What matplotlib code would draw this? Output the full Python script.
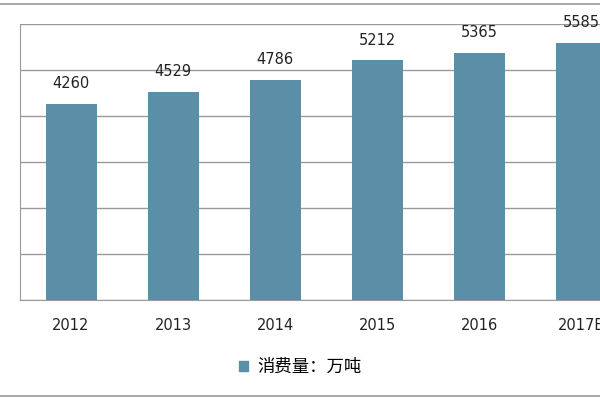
import matplotlib.pyplot as plt
from matplotlib.lines import Line2D
from matplotlib.patches import Patch

plt.rcParams['font.family'] = ['Noto Sans CJK SC', 'DejaVu Sans']

# donnees
annees = ['2012', '2013', '2014', '2015', '2016', '2017E']
consommation = [4260, 4529, 4786, 5212, 5365, 5585]
graduations = [0, 1000, 2000, 3000, 4000, 5000, 6000]
legende = '消费量：万吨'

couleur = '#5B8FA8'
gris = '#9A9A9A'
texte = '#222222'

fig = plt.figure(figsize=(6, 4), dpi=100)
# le graphique d'origine est recadre : l'axe depasse a droite
ax = fig.add_axes([20 / 600, 0.25, 612 / 600, 0.69])

x = list(range(len(annees)))
ax.bar(x, consommation, width=0.5, color=couleur, zorder=3)
for xi, v in zip(x, consommation):
    ax.text(xi, v + 440, str(v), ha='center', va='center', fontsize=10.5,
            color=texte, family='DejaVu Sans')

ax.set_xlim(-0.5, len(annees) - 0.5)
ax.set_ylim(0, 6000)
ax.set_yticks(graduations)
ax.set_yticklabels([str(g) for g in graduations], fontsize=10.5, family='DejaVu Sans')
ax.tick_params(axis='y', length=0, pad=14, colors=texte)
ax.set_xticks(x)
ax.set_xticklabels(annees, fontsize=10.5, color=texte, family='DejaVu Sans')
ax.tick_params(axis='x', length=0, pad=13)
ax.yaxis.grid(True, color=gris, linewidth=1, zorder=0)

for cote in ['top', 'right']:
    ax.spines[cote].set_visible(False)
ax.spines['left'].set_color(gris)
ax.spines['bottom'].set_color(gris)

fig.legend(handles=[Patch(color=couleur, label=legende)], loc='center',
           bbox_to_anchor=(0.5, 1 - 367 / 400), frameon=False, fontsize=12.5,
           handlelength=0.55, handleheight=0.55, handletextpad=0.5)

# cadre exterieur (haut et bas)
fig.add_artist(Line2D([0, 1], [1 - 4 / 400, 1 - 4 / 400], color=gris, linewidth=1.2))
fig.add_artist(Line2D([0, 1], [1 - 396 / 400, 1 - 396 / 400], color=gris, linewidth=1.2))

fig.savefig('out.png', dpi=100)
